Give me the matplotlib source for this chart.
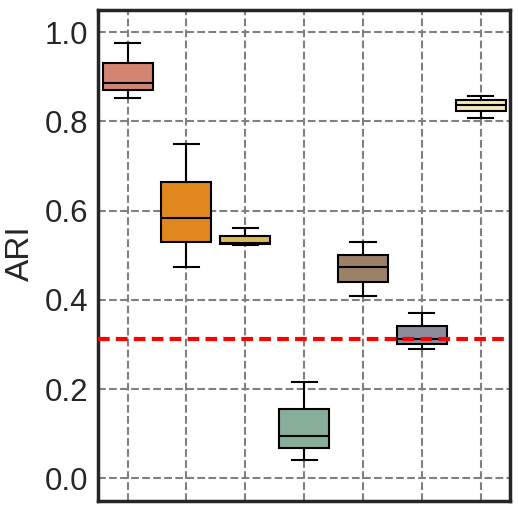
import matplotlib
matplotlib.use("Agg")
import matplotlib.pyplot as plt
import numpy as np

# box statistics: (whislo, q1, med, q3, whishi)
methods = ["m1", "m2", "m3", "m4", "m5", "m6", "m7"]
whislo = [0.852, 0.474, 0.523, 0.042, 0.409, 0.290, 0.807]
q1 = [0.870, 0.530, 0.525, 0.069, 0.441, 0.301, 0.823]
med = [0.886, 0.583, 0.527, 0.094, 0.474, 0.312, 0.837]
q3 = [0.930, 0.665, 0.544, 0.156, 0.500, 0.342, 0.847]
whishi = [0.975, 0.749, 0.561, 0.216, 0.530, 0.371, 0.856]
colors = ["#d38572", "#e0881e", "#e2b85c", "#87ae98", "#9c8169", "#8c8b9b", "#f3e7b5"]
baseline = 0.312

plt.rcParams["font.family"] = ["Liberation Sans", "DejaVu Sans"]

fig = plt.figure(figsize=(5.19, 5.11), dpi=100)
ax = fig.add_axes([0.189, 0.020, 0.794, 0.961])

stats = []
for i, m in enumerate(methods):
    stats.append(dict(label=m, whislo=whislo[i], q1=q1[i], med=med[i],
                      q3=q3[i], whishi=whishi[i], fliers=[]))

bp = ax.bxp(stats, positions=range(len(methods)), widths=0.85,
            patch_artist=True, showfliers=False,
            boxprops=dict(linewidth=1.5, edgecolor="black"),
            medianprops=dict(color="black", linewidth=1.5),
            whiskerprops=dict(color="black", linewidth=1.5),
            capprops=dict(color="black", linewidth=1.5))
for patch, c in zip(bp["boxes"], colors):
    patch.set_facecolor(c)
    patch.set_zorder(3)
for key in ["medians", "whiskers", "caps"]:
    for ln in bp[key]:
        ln.set_zorder(4)

ax.axhline(baseline, color="red", linestyle="--", linewidth=3, dashes=(2.8, 1.5), zorder=5)

ax.set_xlim(-0.5, 6.5)
ax.set_ylim(-0.05, 1.05)
ax.set_yticks(np.arange(0, 1.01, 0.2))
ax.set_yticklabels([f"{v:.1f}" for v in np.arange(0, 1.01, 0.2)])
ax.set_xticks(range(len(methods)))
ax.set_xticklabels([])
ax.tick_params(axis="both", length=0, labelsize=22.5, pad=7, colors="#262626")
ax.set_ylabel("ARI", fontsize=24, color="#262626")
ax.yaxis.set_label_coords(-0.152, 0.505)

ax.grid(True, color="gray", linestyle="--", linewidth=1.5, zorder=0)
ax.set_axisbelow(True)
for s in ax.spines.values():
    s.set_linewidth(2.5)
    s.set_color("#262626")

fig.savefig("out.png", dpi=100)
